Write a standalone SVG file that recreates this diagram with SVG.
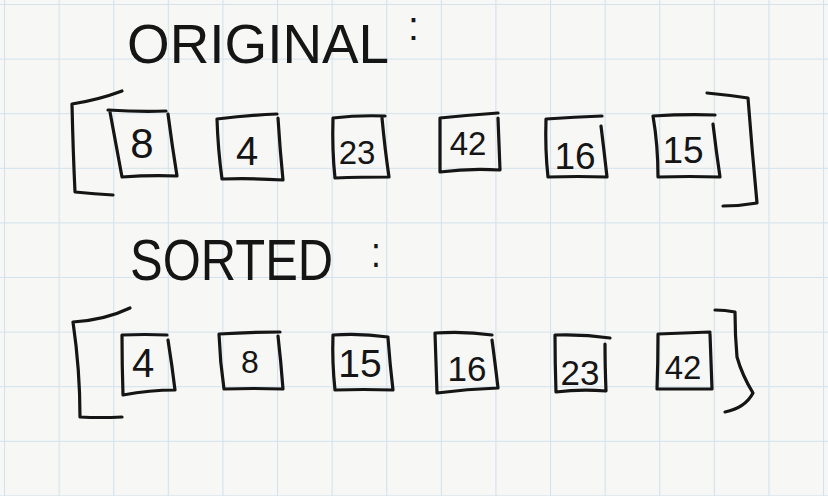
<svg xmlns="http://www.w3.org/2000/svg" width="828" height="496" viewBox="0 0 828 496">
<defs>
<pattern id="grid" x="4" y="4" width="54.6" height="54.6" patternUnits="userSpaceOnUse">
<path d="M0 0H54.6M0 0V54.6" fill="none" stroke="#d3e2ec" stroke-width="2.2"/>
</pattern>
</defs>
<style>
.ink{fill:none;stroke:#151515;stroke-width:3.2;stroke-linecap:round;stroke-linejoin:round}
.hd{font-family:"Liberation Sans","DejaVu Sans",sans-serif;fill:#151515}
.num{font-family:"Liberation Sans","DejaVu Sans",sans-serif;fill:#151515;text-anchor:middle;dominant-baseline:central}
</style>
<rect width="828" height="496" fill="#f7f7f5"/>
<rect width="828" height="496" fill="url(#grid)"/>

<g id="title-original">
<text class="hd" x="127" y="63" font-size="56" textLength="273" lengthAdjust="spacingAndGlyphs">ORIGINAL<tspan x="408" y="40" font-size="40">:</tspan></text>
</g>
<g id="title-sorted">
<text class="hd" x="130" y="280" font-size="58" textLength="213" lengthAdjust="spacingAndGlyphs">SORTED<tspan x="371" y="267" font-size="42">:</tspan></text>
</g>

<g id="original-left-bracket"><path class="ink" d="M122 91Q98 100 72 104Q73 150 75 192Q95 194 113 195"/></g>
<g id="original-right-bracket"><path class="ink" d="M707 93Q728 95 748 98Q752 150 757 203Q740 206 723 206"/></g>

<g id="orig-0"><path class="ink" d="M108 110Q140 112 166 111M110 112Q116 145 122 177Q150 175 177 176Q172 145 168 114"/><text class="num" x="142" y="143" font-size="42">8</text></g>
<g id="orig-1"><path class="ink" d="M217 119Q250 115 277 114M217 119Q218 150 222 179Q252 178 283 180Q280 150 278 118"/><text class="num" x="247" y="151" font-size="40">4</text></g>
<g id="orig-2"><path class="ink" d="M333 118Q358 115 385 116M333 118Q332 150 335 178Q360 177 389 177Q385 150 382 118"/><text class="num" x="357" y="152" font-size="33">23</text></g>
<g id="orig-3"><path class="ink" d="M440 118Q470 115 498 113M440 118Q440 145 440 172Q470 168 500 170Q499 145 498 118"/><text class="num" x="468" y="143" font-size="33">42</text></g>
<g id="orig-4"><path class="ink" d="M546 119Q575 117 602 116M546 119Q545 150 548 177Q578 176 607 177Q604 150 601 126"/><text class="num" x="575" y="156" font-size="37">16</text></g>
<g id="orig-5"><path class="ink" d="M653 116Q685 114 715 115M653 116Q658 145 658 177Q690 176 720 177Q716 150 713 124"/><text class="num" x="683" y="150" font-size="37">15</text></g>

<g id="sorted-left-bracket"><path class="ink" d="M130 308Q105 320 73 322Q80 370 80 417Q100 418 122 417"/></g>
<g id="sorted-right-bracket"><path class="ink" d="M715 310Q725 310 735 312Q735 335 737 357Q742 375 753 393Q745 408 725 412"/></g>

<g id="sorted-0"><path class="ink" d="M122 335Q145 334 167 335M122 335Q122 365 123 395Q150 390 175 390Q172 365 168 340"/><text class="num" x="143" y="363" font-size="40">4</text></g>
<g id="sorted-1"><path class="ink" d="M219 334Q250 332 280 332M219 334Q220 362 224 389Q253 388 283 389Q281 362 278 336"/><text class="num" x="250" y="362" font-size="32">8</text></g>
<g id="sorted-2"><path class="ink" d="M333 335Q360 333 388 337M333 335Q332 362 335 390Q363 389 393 390Q390 365 388 338"/><text class="num" x="360" y="363" font-size="39">15</text></g>
<g id="sorted-3"><path class="ink" d="M435 333Q465 331 492 335M435 333Q436 362 437 393Q467 389 498 388Q495 362 492 340"/><text class="num" x="467" y="368" font-size="35">16</text></g>
<g id="sorted-4"><path class="ink" d="M555 335Q583 334 610 338M555 335Q555 362 556 392Q580 389 606 391Q605 365 605 344"/><text class="num" x="580" y="372" font-size="35">23</text></g>
<g id="sorted-5"><path class="ink" d="M658 334Q685 333 710 332M658 334Q658 362 657 389Q685 389 712 389Q711 362 710 334"/><text class="num" x="683" y="367" font-size="33">42</text></g>
</svg>
